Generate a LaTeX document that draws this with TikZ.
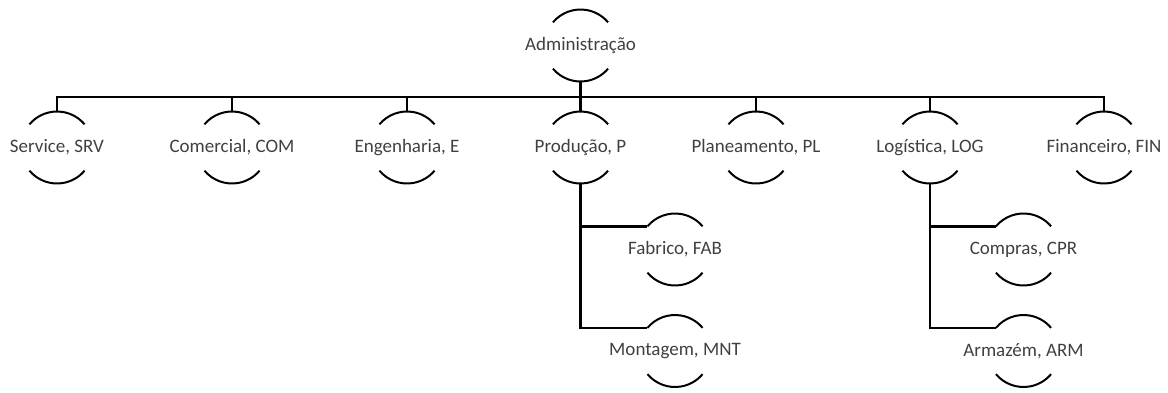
\documentclass[tikz,border=0pt]{standalone}
\usepackage{fontspec}
\setmainfont{Carlito}
% label that does not widen its circle
\newcommand\unitname[1]{\makebox[0pt]{#1}}
\begin{document}
\begin{tikzpicture}[x=1pt,y=-1pt,
  unit/.style={circle,minimum size=72pt,inner sep=0pt,outer sep=0pt,
    font=\fontsize{19}{22}\selectfont,text=black!75},
  link/.style={line width=2.3pt,line join=miter},
  capline/.style={line width=2pt}]
  \useasboundingbox (0,0) rectangle (1168,392);

  % units
  \node[unit] (adm) at (580.5,45.5) {\unitname{Administração}};
  \node[unit] (srv) at (57,147.5)   {\unitname{Service, SRV}};
  \node[unit] (com) at (232,147.5)  {\unitname{Comercial, COM}};
  \node[unit] (eng) at (407,147.5)  {\unitname{Engenharia, E}};
  \node[unit] (prd) at (580.5,147.5){\unitname{Produção, P}};
  \node[unit] (pln) at (756,147.5)  {\unitname{Planeamento, PL}};
  \node[unit] (log) at (930,147.5)  {\unitname{Logística, LOG}};
  \node[unit] (fin) at (1104,147.5) {\unitname{Financeiro, FIN}};
  \node[unit] (fab) at (675,249.5)  {\unitname{Fabrico, FAB}};
  \node[unit] (mnt) at (675,351)    {\unitname{Montagem, MNT}};
  \node[unit] (cpr) at (1023.5,249.5){\unitname{Compras, CPR}};
  \node[unit] (arm) at (1023.5,351) {\unitname{Armazém, ARM}};

  % upper and lower caps of every unit
  \foreach \n in {adm,srv,com,eng,prd,pln,log,fin,fab,mnt,cpr,arm}{
    \draw[capline] (\n.140) arc[start angle=140,end angle=40,radius=36pt];
    \draw[capline] (\n.220) arc[start angle=220,end angle=320,radius=36pt];
  }

  % main bus
  \coordinate (bus) at (580.5,97);
  \draw[link] (srv.north) -- (srv.north |- bus) -- (fin.north |- bus) -- (fin.north);
  \foreach \n in {com,eng,pln,log}
    \draw[link] (\n.north) -- (\n.north |- bus);
  \draw[link] (adm.south) -- (prd.north);

  % sub-units
  \draw[link] (prd.south) |- (fab.140);
  \draw[link] (prd.south) |- (mnt.140);
  \draw[link] (log.south) |- (cpr.140);
  \draw[link] (log.south) |- (arm.140);
\end{tikzpicture}
\end{document}
